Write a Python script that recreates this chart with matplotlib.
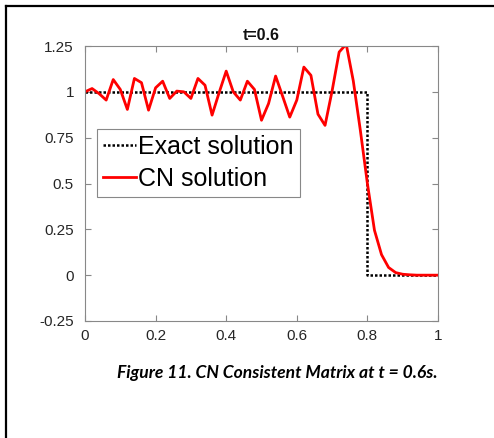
import matplotlib
matplotlib.use('Agg')
import matplotlib.pyplot as plt
from matplotlib.lines import Line2D

# Grid points (dx = 0.02) and CN solution values
x_cn = [0.00, 0.02, 0.04, 0.06, 0.08, 0.10, 0.12, 0.14, 0.16, 0.18,
        0.20, 0.22, 0.24, 0.26, 0.28, 0.30, 0.32, 0.34, 0.36, 0.38,
        0.40, 0.42, 0.44, 0.46, 0.48, 0.50, 0.52, 0.54, 0.56, 0.58,
        0.60, 0.62, 0.64, 0.66, 0.68, 0.70, 0.72, 0.74, 0.76, 0.78,
        0.80, 0.82, 0.84, 0.86, 0.88, 0.90, 0.92, 0.94, 0.96, 0.98, 1.00]
y_cn = [1.000, 1.018, 0.990, 0.955, 1.067, 1.013, 0.904, 1.073, 1.050, 0.900,
        1.022, 1.058, 0.964, 1.004, 1.000, 0.964, 1.073, 1.036, 0.873, 0.996,
        1.113, 1.000, 0.955, 1.058, 1.013, 0.845, 0.936, 1.086, 0.975, 0.862,
        0.955, 1.135, 1.090, 0.878, 0.817, 1.005, 1.217, 1.260, 1.060, 0.790,
        0.500, 0.245, 0.112, 0.042, 0.014, 0.005, 0.002, 0.000, 0.000, 0.000, 0.000]

# Exact solution: step at x = 0.8
x_exact = [0.0, 0.8, 0.8, 1.0]
y_exact = [1.0, 1.0, 0.0, 0.0]

x_ticks = [0, 0.2, 0.4, 0.6, 0.8, 1]
x_labels = ['0', '0.2', '0.4', '0.6', '0.8', '1']
y_ticks = [-0.25, 0, 0.25, 0.5, 0.75, 1, 1.25]
y_labels = ['-0.25', '0', '0.25', '0.5', '0.75', '1', '1.25']

plt.rcParams['font.family'] = ['Liberation Sans', 'DejaVu Sans']

W, H = 494, 438
fig = plt.figure(figsize=(W / 100, H / 100), dpi=100)
ax = fig.add_axes([85 / W, 1 - 321 / H, 353 / W, 275 / H])

ax.plot(x_exact, y_exact, color='black', linestyle=(0, (1, 0.8)), linewidth=1.8, label='Exact solution')
ax.plot(x_cn, y_cn, color='#ff0000', linewidth=2, label='CN solution')

ax.set_xlim(0, 1)
ax.set_ylim(-0.25, 1.25)
ax.set_xticks(x_ticks)
ax.set_xticklabels(x_labels)
ax.set_yticks(y_ticks)
ax.set_yticklabels(y_labels)
ax.tick_params(direction='in', length=4, width=0.8, colors='#888888',
               labelcolor='#262626', labelsize=11, top=True, right=True)
ax.tick_params(axis='x', pad=6)
ax.tick_params(axis='y', pad=8)
for s in ax.spines.values():
    s.set_color('#888888')
    s.set_linewidth(0.8)

ax.set_title('t=0.6', fontsize=11.5, fontweight='bold', pad=4, color='#111111')

leg = ax.legend(loc='upper left', bbox_to_anchor=(0.034, 0.70), fontsize=18,
                handlelength=1.3, handletextpad=0.08, borderpad=0.25,
                labelspacing=0.33, borderaxespad=0, fancybox=False, framealpha=1)
leg.get_frame().set_edgecolor('#888888')
leg.get_frame().set_linewidth(0.8)

# caption
fig.text(277 / W, 1 - 373 / H, 'Figure 11. CN Consistent Matrix at t = 0.6s.',
         ha='center', va='center', fontsize=12.6, fontweight='bold',
         fontstyle='italic', family=['Lato', 'DejaVu Sans'], color='black')

# page border (left and top)
fig.add_artist(Line2D([5.5 / W, 5.5 / W], [0, 1 - 5.5 / H], color='black', linewidth=1.6))
fig.add_artist(Line2D([5.5 / W, 1], [1 - 5.5 / H, 1 - 5.5 / H], color='black', linewidth=1.6))

fig.savefig('out.png', dpi=100)
